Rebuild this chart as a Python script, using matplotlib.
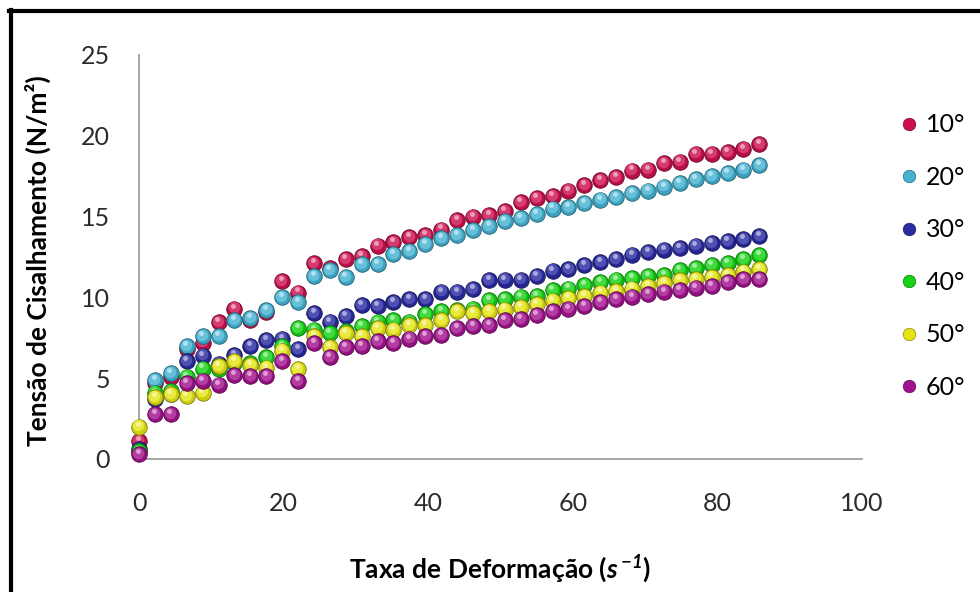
import matplotlib
matplotlib.use("Agg")
import matplotlib.pyplot as plt
import matplotlib.transforms as mtransforms
from matplotlib.lines import Line2D
from matplotlib.colors import to_rgb

plt.rcParams['font.family'] = ['Lato', 'DejaVu Sans']
plt.rcParams['mathtext.fontset'] = 'custom'
plt.rcParams['mathtext.it'] = 'Lato:italic:bold'
plt.rcParams['mathtext.rm'] = 'Lato:italic:bold'

# taxa de deformação (s^-1)
taxa = [0.0, 2.2, 4.4, 6.6, 8.8, 11.0, 13.2, 15.4, 17.6, 19.8,
        22.0, 24.2, 26.4, 28.6, 30.8, 33.0, 35.2, 37.4, 39.6, 41.8,
        44.0, 46.2, 48.4, 50.6, 52.8, 55.0, 57.2, 59.4, 61.6, 63.8,
        66.0, 68.2, 70.4, 72.6, 74.8, 77.0, 79.2, 81.4, 83.6, 85.8]

# tensão de cisalhamento (N/m2) por temperatura
t10 = [1.1, 4.7, 5.1, 6.8, 7.2, 8.45, 9.3, 8.6, 9.1, 11.0,
       10.3, 12.1, 11.8, 12.35, 12.55, 13.2, 13.4, 13.75, 13.85, 14.2,
       14.8, 15.0, 15.1, 15.35, 15.9, 16.15, 16.25, 16.6, 16.95, 17.25,
       17.45, 17.85, 17.9, 18.3, 18.4, 18.9, 18.9, 19.0, 19.2, 19.5]
t20 = [0.5, 4.9, 5.3, 7.0, 7.6, 7.6, 8.6, 8.7, 9.2, 10.0,
       9.7, 11.3, 11.7, 11.25, 12.05, 12.05, 12.7, 12.85, 13.3, 13.65,
       13.85, 14.15, 14.4, 14.7, 14.9, 15.15, 15.5, 15.6, 15.85, 16.05,
       16.2, 16.45, 16.6, 16.85, 17.05, 17.3, 17.5, 17.7, 17.9, 18.2]
t30 = [0.6, 3.7, 4.0, 6.05, 6.4, 5.9, 6.45, 7.0, 7.35, 7.45,
       6.8, 9.05, 8.5, 8.85, 9.5, 9.45, 9.7, 9.9, 9.9, 10.35,
       10.35, 10.5, 11.05, 11.1, 11.1, 11.3, 11.65, 11.75, 12.0, 12.2,
       12.35, 12.65, 12.8, 12.95, 13.05, 13.2, 13.35, 13.5, 13.6, 13.8]
t40 = [0.5, 4.1, 4.2, 5.1, 5.6, 5.55, 5.95, 5.95, 6.3, 7.0,
       8.1, 8.0, 7.8, 7.9, 8.2, 8.5, 8.6, 8.5, 8.95, 9.15,
       9.2, 9.3, 9.85, 9.9, 10.05, 10.1, 10.45, 10.55, 10.75, 10.95,
       11.1, 11.2, 11.3, 11.4, 11.7, 11.8, 12.0, 12.1, 12.35, 12.6]
t50 = [2.0, 3.85, 4.0, 3.9, 4.1, 5.75, 6.05, 5.8, 5.65, 6.7,
       5.55, 7.6, 6.9, 7.8, 7.6, 8.1, 8.0, 8.3, 8.3, 8.6,
       9.15, 9.05, 9.15, 9.25, 9.4, 9.6, 9.8, 9.95, 10.1, 10.3,
       10.4, 10.55, 10.7, 10.9, 11.05, 11.15, 11.25, 11.4, 11.6, 11.75]
t60 = [0.3, 2.8, 2.8, 4.7, 4.85, 4.6, 5.2, 5.15, 5.15, 6.05,
       4.8, 7.15, 6.3, 6.9, 7.0, 7.3, 7.15, 7.45, 7.6, 7.65,
       8.1, 8.2, 8.3, 8.6, 8.65, 8.9, 9.15, 9.3, 9.45, 9.7,
       9.9, 10.05, 10.2, 10.35, 10.45, 10.6, 10.7, 10.95, 11.15, 11.15]

series = [t10, t20, t30, t40, t50, t60]
labels = ['10°', '20°', '30°', '40°', '50°', '60°']
colors = ['#cc1050', '#44b2d2', '#2a2aa2', '#14d214', '#e4e414', '#a2128e']


def mix(c, other, f):
    c = to_rgb(c)
    o = to_rgb(other)
    return tuple(a * (1 - f) + b * f for a, b in zip(c, o))


fig = plt.figure(figsize=(9.8, 5.92), dpi=100)
ax = fig.add_axes([139 / 980, 1 - 459 / 592, 723 / 980, 404 / 592])

size = 125
for k, (vals, col) in enumerate(zip(series, colors)):
    z = 3 + k
    # shaded ball: dark rim, body, soft highlight
    ax.scatter(taxa, vals, s=size, color=mix(col, 'black', 0.1),
               edgecolors=mix(col, 'black', 0.45), linewidths=0.6,
               zorder=z, clip_on=False)
    mid = mtransforms.offset_copy(ax.transData, fig=fig, x=-0.5, y=0.9, units='points')
    ax.scatter(taxa, vals, s=size * 0.55, color=mix(col, 'white', 0.18),
               linewidths=0, transform=mid, zorder=z + 0.1, clip_on=False)
    hl = mtransforms.offset_copy(ax.transData, fig=fig, x=-1.0, y=2.2, units='points')
    ax.scatter(taxa, vals, s=size * 0.1, color=mix(col, 'white', 0.6),
               linewidths=0, transform=hl, zorder=z + 0.2, clip_on=False)

ax.set_xlim(0, 100)
ax.set_ylim(0, 25)
ax.set_xticks([0, 20, 40, 60, 80, 100])
ax.set_yticks([0, 5, 10, 15, 20, 25])

for s in ['top', 'right']:
    ax.spines[s].set_visible(False)
for s in ['left', 'bottom']:
    ax.spines[s].set_color('#a6a6a6')
    ax.spines[s].set_linewidth(1.4)

ax.tick_params(axis='both', length=0, labelsize=18, labelcolor='#2b2b2b')
ax.tick_params(axis='x', pad=24)
ax.tick_params(axis='y', pad=21)

ax.set_ylabel('Tensão de Cisalhamento (N/m²)', fontsize=19, fontweight='bold')
ax.yaxis.set_label_coords(-0.122, 0.49)
ax.set_xlabel(r'Taxa de Deformação ($s\,{}^{-1}$)', fontsize=19, fontweight='bold')
ax.xaxis.set_label_coords(0.5, -0.232)

handles = [Line2D([], [], marker='o', ls='', markersize=9,
                  markerfacecolor=c, markeredgecolor=mix(c, 'black', 0.4),
                  markeredgewidth=0.5) for c in colors]
fig.legend(handles, labels, loc='center left', bbox_to_anchor=(901 / 980, 1 - 256 / 592),
           frameon=False, fontsize=18, labelspacing=1.18, handlelength=0.64,
           handletextpad=0.36, borderpad=0, borderaxespad=0)

# frame lines on the left and top edges
fig.add_artist(Line2D([10.5 / 980, 10.5 / 980], [0, 1 - 9.5 / 592],
                      transform=fig.transFigure, color='black', lw=3))
fig.add_artist(Line2D([9 / 980, 1], [1 - 11 / 592, 1 - 11 / 592],
                      transform=fig.transFigure, color='black', lw=3))

fig.savefig('out.png', dpi=100)
